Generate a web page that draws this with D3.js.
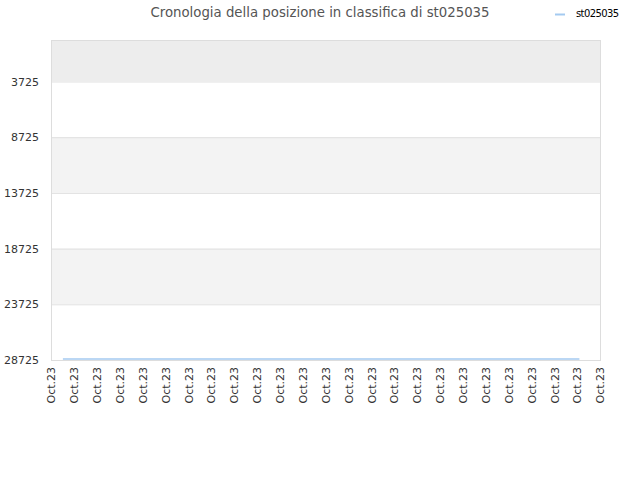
<!DOCTYPE html>
<html>
<head>
<meta charset="utf-8">
<script src="https://cdn.jsdelivr.net/npm/d3@7"></script>
<style>
  body { margin: 0; background: #fff; }
  text { font-family: "DejaVu Sans", sans-serif; }
</style>
</head>
<body>
<div id="plot"></div>
<script>
// chart data
const title = "Cronologia della posizione in classifica di st025035";
const seriesName = "st025035";
const xLabels = ["Oct.23", "Oct.23", "Oct.23", "Oct.23", "Oct.23", "Oct.23", "Oct.23", "Oct.23", "Oct.23",
                 "Oct.23", "Oct.23", "Oct.23", "Oct.23", "Oct.23", "Oct.23", "Oct.23", "Oct.23", "Oct.23",
                 "Oct.23", "Oct.23", "Oct.23", "Oct.23", "Oct.23", "Oct.23", "Oct.23"];
const yTicks = [3725, 8725, 13725, 18725, 23725, 28725];
// line points: position along the label axis, and rank
const seriesX = [0.52, 23.1];
const seriesRank = [28630, 28630];

const width = 640, height = 480;
const margin = {left: 51, right: 40, top: 40, bottom: 120};

const svg = d3.select("div#plot")
              .append("svg")
              .attr("width", width)
              .attr("height", height);

const x = d3.scaleLinear()
            .domain([0, xLabels.length - 1])
            .range([margin.left, width - margin.right]);
const y = d3.scaleLinear()
            .domain([1, 28725])
            .range([margin.top, height - margin.bottom]);

// alternating bands
const bandEdges = [1].concat(yTicks);
const bandColors = ["#ededed", "#ffffff", "#f3f3f3", "#ffffff", "#f3f3f3", "#ffffff"];
svg.selectAll("rect.band")
   .data(bandEdges.slice(0, -1))
   .enter()
   .append("rect")
   .attr("class", "band")
   .attr("x", margin.left)
   .attr("width", width - margin.right - margin.left)
   .attr("y", d => y(d))
   .attr("height", (d, i) => y(bandEdges[i + 1]) - y(d))
   .attr("fill", (d, i) => bandColors[i]);

// grid lines
svg.selectAll("line.grid")
   .data(yTicks)
   .enter()
   .append("line")
   .attr("x1", margin.left)
   .attr("x2", width - margin.right)
   .attr("y1", d => y(d) + 0.5)
   .attr("y2", d => y(d) + 0.5)
   .attr("stroke", "#e0e0e0");

// frame
svg.append("rect")
   .attr("x", margin.left + 0.5)
   .attr("y", margin.top + 0.5)
   .attr("width", width - margin.right - margin.left)
   .attr("height", height - margin.bottom - margin.top)
   .attr("fill", "none")
   .attr("stroke", "#dddddd");

// y axis
const yAxis = d3.axisLeft(y)
                .tickValues(yTicks)
                .tickFormat(d3.format("d"))
                .tickSize(0)
                .tickPadding(12);
svg.append("g")
   .attr("class", "y-axis")
   .attr("transform", "translate(" + margin.left + ",0)")
   .call(yAxis)
   .call(g => g.select(".domain").remove())
   .selectAll("text")
   .attr("fill", "#333")
   .attr("font-size", "11px");

// x axis
const xAxis = d3.axisBottom(x)
                .tickValues(d3.range(xLabels.length))
                .tickFormat(i => xLabels[i])
                .tickSize(0);
svg.append("g")
   .attr("class", "x-axis")
   .attr("transform", "translate(0," + (height - margin.bottom) + ")")
   .call(xAxis)
   .call(g => g.select(".domain").remove())
   .selectAll("text")
   .attr("fill", "#333")
   .attr("font-size", "11px")
   .attr("text-anchor", "end")
   .attr("dy", "0.35em")
   .attr("transform", "translate(0,7) rotate(-90)")
   .attr("x", 0)
   .attr("y", 0);

// series line
const line = d3.line()
               .x((d, i) => x(seriesX[i]))
               .y(d => y(d));
svg.append("path")
   .datum(seriesRank)
   .attr("d", line)
   .attr("fill", "none")
   .attr("stroke", "#a4caf0")
   .attr("stroke-width", 1.5);

// title
svg.append("text")
   .attr("x", 320)
   .attr("y", 17)
   .attr("text-anchor", "middle")
   .attr("fill", "#555")
   .attr("font-size", "13.3px")
   .text(title);

// legend
svg.append("line")
   .attr("x1", 555)
   .attr("x2", 565)
   .attr("y1", 14.5)
   .attr("y2", 14.5)
   .attr("stroke", "#a4caf0")
   .attr("stroke-width", 2);
svg.append("text")
   .attr("x", 576)
   .attr("y", 17)
   .attr("fill", "#000")
   .attr("font-size", "10px")
   .style("letter-spacing", "-0.6px")
   .text(seriesName);
</script>
</body>
</html>
